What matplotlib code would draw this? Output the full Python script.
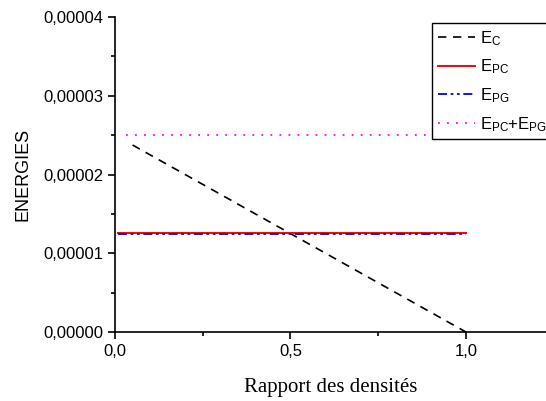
import numpy as np
import matplotlib
matplotlib.use("Agg")
import matplotlib.pyplot as plt
from matplotlib.ticker import MultipleLocator, FuncFormatter

# density ratio
x_c = [0.05, 1.0]
e_c = [2.375e-5, 0.0]
x = [0.01, 1.0]
e_pc = [1.26e-5, 1.26e-5]
e_pg = [1.24e-5, 1.24e-5]
x_sum = [0.03, 1.0]
e_sum = [2.5e-5, 2.5e-5]

plt.rcParams['font.family'] = ['Liberation Sans', 'DejaVu Sans']

fig = plt.figure(figsize=(5.46, 4.01), dpi=100)
ax = fig.add_axes([0.2106, 0.172, 0.7894, 0.7855])

ax.plot(x_c, e_c, color="k", lw=1.2, linestyle=(0, (5, 4)), label=r"$\mathregular{E_C}$")
ax.plot(x, e_pc, color="red", lw=1.4, label=r"$\mathregular{E_{PC}}$")
ax.plot(x, e_pg, color="blue", lw=1.3, linestyle=(0, (5, 2, 1.5, 2, 1.5, 2)), label=r"$\mathregular{E_{PG}}$")
ax.plot(x_sum, e_sum, color="magenta", lw=1.3, linestyle=(0, (1, 4)), label=r"$\mathregular{E_{PC}}$+$\mathregular{E_{PG}}$")

ax.set_xlim(0, 1.228)
ax.set_ylim(0, 4e-5)
ax.spines['top'].set_visible(False)
ax.spines['right'].set_visible(False)
ax.spines['left'].set_linewidth(1.2)
ax.spines['bottom'].set_linewidth(1.2)

ax.xaxis.set_major_locator(MultipleLocator(0.5))
ax.xaxis.set_minor_locator(MultipleLocator(0.25))
ax.yaxis.set_major_locator(MultipleLocator(1e-5))
ax.yaxis.set_minor_locator(MultipleLocator(0.5e-5))
ax.xaxis.set_major_formatter(FuncFormatter(lambda v, p: f"{v:.1f}".replace(".", ",")))
ax.yaxis.set_major_formatter(FuncFormatter(lambda v, p: f"{v:.5f}".replace(".", ",")))
ax.tick_params(which="major", direction="out", length=5, width=1.2, labelsize=12)
ax.tick_params(which="minor", direction="out", length=3, width=1.2)

ax.set_ylabel("ENERGIES", fontsize=13, labelpad=8)
ax.set_xlabel("Rapport des densités", fontsize=15, family="Liberation Serif", labelpad=14)

leg = ax.legend(loc="upper left", bbox_to_anchor=(0.7356, 0.981), fontsize=12, frameon=True,
                fancybox=False, edgecolor="k", framealpha=1, handlelength=2.2,
                labelspacing=0.6, borderpad=0.35, handletextpad=0.3, borderaxespad=0)
leg.get_frame().set_linewidth(1.0)

fig.savefig("out.png", dpi=100)
